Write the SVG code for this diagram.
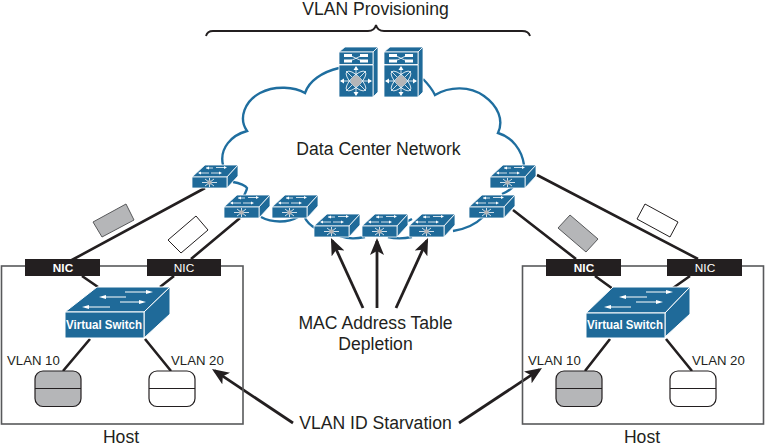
<svg xmlns="http://www.w3.org/2000/svg" xmlns:xlink="http://www.w3.org/1999/xlink" width="765" height="446" viewBox="0 0 765 446">
<style>
text{font-family:"Liberation Sans",Arial,sans-serif;fill:#231f20}
.lbl{font-size:17.6px}
.sm{font-size:13.2px}
.nic{font-size:11.8px;fill:#fff;text-anchor:middle}
.vs{font-size:13px;font-weight:bold;fill:#fff}
.b{fill:#1f6a99;stroke:#fff;stroke-width:.8;stroke-linejoin:round}
.vb{fill:#1f6a99;stroke:#fff;stroke-width:1;stroke-linejoin:round}
.w{stroke:#fff;fill:none;stroke-width:.8}
.wf{fill:#fff}
.cl{fill:none;stroke:#1f6e9f;stroke-width:2.4;stroke-linecap:butt}
.ln{fill:none;stroke:#231f20;stroke-width:2.6}
.ar{fill:none;stroke:#231f20;stroke-width:2.8}
.box{fill:none;stroke:#58595b;stroke-width:1.6}
.tg{fill:#b5b6b8;stroke:#58595b;stroke-width:1}
.tw{fill:#fff;stroke:#231f20;stroke-width:1}
.nb{fill:#231f20}
.vm{stroke:#231f20;stroke-width:1.2}
</style>
<defs>
<marker id="ah" markerUnits="userSpaceOnUse" markerWidth="20" markerHeight="16" refX="14" refY="7" orient="auto">
<path d="M0 0L17 7L0 14L4 7Z" fill="#231f20"/>
</marker>
<g id="small">
<path class="b" d="M0 0L13 -12H46L35 0Z"/>
<path class="b" d="M35 0L46 -12V-1L35 11Z"/>
<rect class="b" x="0" y="0" width="35" height="11"/>
<path class="w" d="M14 -9H21M24 -9.500H33M7 -4H17M19 -4H28"/>
<path class="wf" d="M14 -9L17 -10.500V-7.500ZM35 -9.500L32 -11V-8ZM6 -4L9 -5.500V-2.500ZM30 -4L27 -5.500V-2.500Z"/>
<path class="w" d="M10 5.500H25M17.500 1V10M13 2L22 9M22 2L13 9"/>
<circle cx="17.500" cy="5.500" r="2.200" fill="#b5b6b8"/>
</g>
<g id="big">
<path class="b" d="M0 0L6 -5H39L34 0Z"/>
<path class="b" d="M34 0L39 -5V40L34 45Z"/>
<rect class="b" x="0" y="0" width="34" height="12.500"/>
<rect class="b" x="0" y="13" width="34" height="32"/>
<path class="w" d="M11 3.500L23 9M11 9L23 3.500"/>
<path class="wf" d="M5 2H13V5H5ZM21 2H29V5H21ZM5 7.500H13V10.500H5ZM21 7.500H29V10.500H21Z"/>
<path class="w" d="M2 29H32M17 15V43M7 19L27 39M27 19L7 39"/>
<ellipse class="w" cx="17" cy="29" rx="13" ry="5" transform="rotate(45 17 29)"/>
<ellipse class="w" cx="17" cy="29" rx="13" ry="5" transform="rotate(-45 17 29)"/>
<path class="wf" d="M1 29L5 26.500V31.500ZM33 29L29 26.500V31.500ZM17 14L14.500 18H19.500ZM17 44L14.500 40H19.500Z"/>
<circle cx="17" cy="29" r="5.200" fill="#b5b6b8"/>
</g>
<g id="vmg">
<rect class="vm" x="0" y="0" width="46" height="35.500" rx="8" ry="8" fill="#b5b6b8"/>
<path class="vm" d="M0 17.500H46"/>
</g>
<g id="vmw">
<rect class="vm" x="0" y="0" width="46" height="35.500" rx="8" ry="8" fill="#fff"/>
<path class="vm" d="M0 17.500H46"/>
</g>
</defs>

<g id="cloud">
<path class="cl" d="M339 68C322 72 309 81 305 93C295 87 275 85 260 93C245 101 238 118 247 131C232 135 219 148 223 165"/>
<path class="cl" d="M423 79C428 84 432 89 435 95C450 86 470 86 484 96C498 106 504 120 498 133C512 137 522 150 524 165"/>
<path class="cl" d="M233 182C240 183 246 186 247 188C247 190 245 193 244 196"/>
<path class="cl" d="M261 217C272 223 288 223 298 217"/>
<path class="cl" d="M305 218C307 222 310 225 315 228"/>
<path class="cl" d="M340 236C350 239 355 239 365 237M388 237C396 239 402 239 412 237"/>
<path class="cl" d="M402 224L412 219"/>
<path class="cl" d="M453 231C466 229 476 224 483 217"/>
<path class="cl" d="M502 194C507 192 510 190 513 187"/>
</g>

<g id="connectors">
<path class="ln" d="M205 188L70 261M240 218L191 259M82 276L98 287M174 276L160 287M90 339L63 371M145 339L171 371"/>
<path class="ln" d="M513 210L576 259M537 175L698 259M595 276L613 289M690 276L673 288M610 339L585 371M666 339L692 371"/>
<path class="ar" marker-end="url(#ah)" d="M363 308L332.200 240.700"/>
<path class="ar" marker-end="url(#ah)" d="M377 308V241"/>
<path class="ar" marker-end="url(#ah)" d="M396 308L426.800 240.700"/>
<path class="ar" marker-end="url(#ah)" d="M293 423L214.500 370.700"/>
<path class="ar" marker-end="url(#ah)" d="M459 423L539.500 369.700"/>
<path fill="none" stroke="#231f20" stroke-width="1.900" d="M206 36C207 32 209 31 213 31H368C372 31 375 29 376 25C377 29 380 31 384 31H522C526 31 529 32 530 36"/>
<polygon class="tg" points="93,222 126,204 134,220 102,237"/>
<polygon class="tw" points="168,240 196,216 208,230 181,253"/>
<polygon class="tg" points="558,228 570,215 598,239 586,252"/>
<polygon class="tw" points="637,219 645,204 678,222 670,237"/>
</g>

<g id="host-left">
<rect class="box" x="1.500" y="266" width="241.500" height="158"/>
<use xlink:href="#vmg" href="#vmg" x="35" y="371"/>
<use xlink:href="#vmw" href="#vmw" x="149" y="371"/>
<text class="sm" x="7" y="365">VLAN 10</text>
<text class="sm" x="171" y="365">VLAN 20</text>
<text class="lbl" x="121" y="443" text-anchor="middle">Host</text>
</g>
<g id="host-right">
<rect class="box" x="522.500" y="266" width="241" height="158"/>
<use xlink:href="#vmg" href="#vmg" x="556" y="371"/>
<use xlink:href="#vmw" href="#vmw" x="670" y="371"/>
<text class="sm" x="528" y="365">VLAN 10</text>
<text class="sm" x="692" y="365">VLAN 20</text>
<text class="lbl" x="642" y="443" text-anchor="middle">Host</text>
</g>

<g id="nic-1"><rect class="nb" x="25" y="259" width="75" height="17"/><text class="nic" x="63" y="272" font-weight="bold">NIC</text></g>
<g id="nic-2"><rect class="nb" x="147" y="259" width="74" height="17"/><text class="nic" x="184" y="272">NIC</text></g>
<g id="nic-3"><rect class="nb" x="546" y="259" width="75" height="17"/><text class="nic" x="584" y="272" font-weight="bold">NIC</text></g>
<g id="nic-4"><rect class="nb" x="667" y="259" width="75" height="17"/><text class="nic" x="705" y="272">NIC</text></g>

<g id="vswitch-left">
<path class="vb" d="M65 312L97 287H170L144 312Z"/>
<path class="vb" d="M144 312L170 287V314L144 338Z"/>
<rect class="vb" x="65" y="312" width="79" height="26"/>
<path class="w" d="M105 297H126M125 292H150M85 307H110M120 302H143" style="stroke-width:1.200"/>
<path class="wf" d="M99 297L106 295V299ZM153 292L146 290V294ZM82 307L89 305V309ZM146 302L139 300V304Z"/>
<text class="vs" x="66" y="329" textLength="76" lengthAdjust="spacingAndGlyphs">Virtual Switch</text>
</g>
<g id="vswitch-right">
<path class="vb" d="M586 313L613 287H690L665 313Z"/>
<path class="vb" d="M665 313L690 287V314L665 337Z"/>
<rect class="vb" x="586" y="313" width="79" height="25"/>
<path class="w" d="M623 297H647M646 292H670M607 307H631M636 302H660" style="stroke-width:1.200"/>
<path class="wf" d="M619 297L626 295V299ZM673 292L666 290V294ZM604 307L611 305V309ZM663 302L656 300V304Z"/>
<text class="vs" x="587" y="329" textLength="76" lengthAdjust="spacingAndGlyphs">Virtual Switch</text>
</g>

<g id="core-1"><use xlink:href="#big" href="#big" x="339" y="52"/></g>
<g id="core-2"><use xlink:href="#big" href="#big" x="384" y="52"/></g>
<g id="sw-1"><use xlink:href="#small" href="#small" x="192" y="177"/></g>
<g id="sw-2"><use xlink:href="#small" href="#small" x="224" y="207"/></g>
<g id="sw-3"><use xlink:href="#small" href="#small" x="272" y="207"/></g>
<g id="sw-4"><use xlink:href="#small" href="#small" x="314" y="226"/></g>
<g id="sw-5"><use xlink:href="#small" href="#small" x="362" y="226"/></g>
<g id="sw-6"><use xlink:href="#small" href="#small" x="409" y="226"/></g>
<g id="sw-7"><use xlink:href="#small" href="#small" x="469" y="207"/></g>
<g id="sw-8"><use xlink:href="#small" href="#small" x="490" y="177"/></g>

<g id="labels">
<text class="lbl" x="375.500" y="15" text-anchor="middle">VLAN Provisioning</text>
<text class="lbl" x="378.500" y="155" text-anchor="middle">Data Center Network</text>
<text class="lbl" x="375.500" y="329" text-anchor="middle">MAC Address Table</text>
<text class="lbl" x="375.500" y="350" text-anchor="middle">Depletion</text>
<text class="lbl" x="375.500" y="429" text-anchor="middle">VLAN ID Starvation</text>
</g>
</svg>
